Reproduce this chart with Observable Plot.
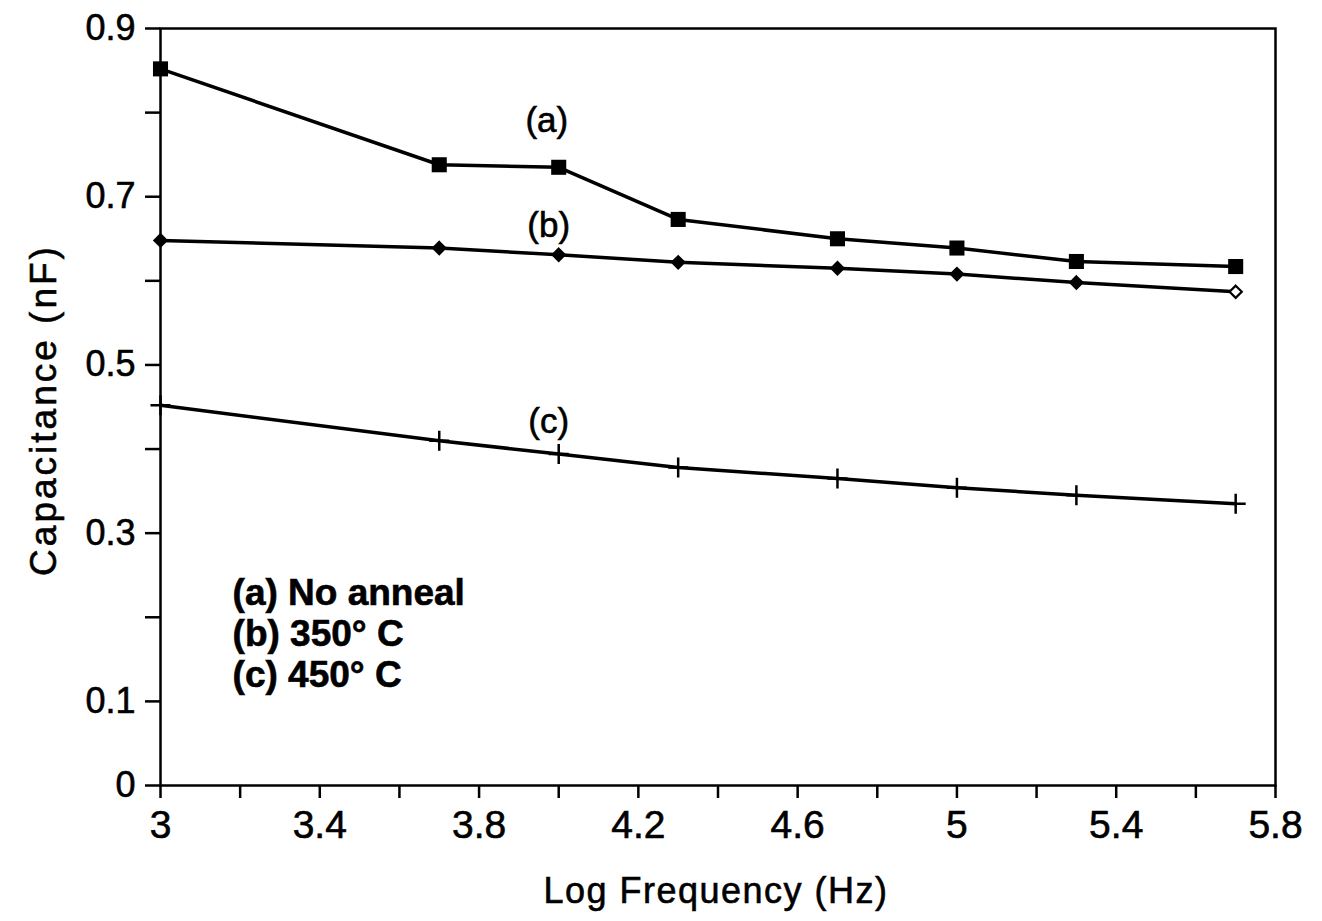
<!DOCTYPE html>
<html><head><meta charset="utf-8">
<script src="https://cdn.jsdelivr.net/npm/d3@7"></script>
<script src="https://cdn.jsdelivr.net/npm/@observablehq/plot@0.6"></script>
<style>
html,body{margin:0;padding:0;background:#fff;}
#chart{width:1322px;height:921px;}
#chart svg text{stroke:#000;stroke-width:0.6px;}
</style>
</head><body><div id="chart"></div>
<script>
const logFreq = [3, 3.7, 4.0, 4.3, 4.7, 5.0, 5.3, 5.7];
const capA = [0.852, 0.738, 0.735, 0.673, 0.650, 0.639, 0.623, 0.617];
const capB = [0.648, 0.639, 0.631, 0.622, 0.615, 0.608, 0.598, 0.587];
const capC = [0.452, 0.410, 0.394, 0.378, 0.365, 0.354, 0.345, 0.335];
const seriesNames = ["(a)", "(b)", "(c)"];
const legendLines = ["(a) No anneal", "(b) 350\u00B0 C", "(c) 450\u00B0 C"];
const labelX = [3.97, 3.975, 3.975];
const labelY = [0.79, 0.666, 0.432];
const xTicks = [3, 3.2, 3.4, 3.6, 3.8, 4.0, 4.2, 4.4, 4.6, 4.8, 5.0, 5.2, 5.4, 5.6, 5.8];
const xTickLabels = ["3", "", "3.4", "", "3.8", "", "4.2", "", "4.6", "", "5", "", "5.4", "", "5.8"];
const yTicks = [0, 0.1, 0.2, 0.3, 0.4, 0.5, 0.6, 0.7, 0.8, 0.9];
const yTickLabels = ["0", "0.1", "", "0.3", "", "0.5", "", "0.7", "", "0.9"];

const rows = (ys, s) => logFreq.map((x, i) => ({x, y: ys[i], s, last: i === logFreq.length - 1}));
const dA = rows(capA, "a"), dB = rows(capB, "b"), dC = rows(capC, "c");
const labels = seriesNames.map((t, i) => ({t, x: labelX[i], y: labelY[i]}));
const legend = legendLines.map((t, i) => ({t, i}));

const font = "'Liberation Sans', Arial, Helvetica, sans-serif";
const chart = Plot.plot({
  width: 1322, height: 921,
  marginLeft: 160, marginRight: 47, marginTop: 28, marginBottom: 136,
  style: {fontFamily: font, background: "#fff", color: "#000"},
  x: {domain: [3, 5.8], axis: null},
  y: {domain: [0, 0.9], axis: null},
  marks: [
    Plot.frame({stroke: "#000", strokeWidth: 2.5}),
    Plot.axisX(xTicks, {tickSize: 13, strokeWidth: 2.5, tickPadding: 12, fontSize: 39,
      tickFormat: d => xTickLabels[xTicks.indexOf(d)], label: null}),
    Plot.axisY(yTicks, {tickSize: 15, strokeWidth: 2.5, tickPadding: 10, fontSize: 36,
      tickFormat: d => yTickLabels[yTicks.indexOf(d)], label: null}),
    Plot.line(dA, {x: "x", y: "y", stroke: "#000", strokeWidth: 3.5}),
    Plot.line(dB, {x: "x", y: "y", stroke: "#000", strokeWidth: 3.5}),
    Plot.line(dC, {x: "x", y: "y", stroke: "#000", strokeWidth: 3.5}),
    Plot.dot(dA, {x: "x", y: "y", symbol: "square", fill: "#000", r: 8.5}),
    Plot.dot(dB, {x: "x", y: "y", symbol: "diamond2", fill: d => d.last ? "#fff" : "#000", stroke: "#000", strokeWidth: 2.2, r: 5.5}),
    Plot.dot(dC, {x: "x", y: "y", symbol: "plus", stroke: "#000", strokeWidth: 2.5, r: 6.5}),
    Plot.text(labels, {x: "x", y: "y", text: "t", fontSize: 35, fill: "#000"}),
    Plot.text(legend, {x: () => 3.181, y: d => 0.229 - d.i * 0.0488, text: "t", fontSize: 37, fontWeight: "bold", textAnchor: "start", fill: "#000"})
  ]
});
const svg = chart;
const ns = "http://www.w3.org/2000/svg";
function addText(t, x, y, rot, size, spacing) {
  const el = document.createElementNS(ns, "text");
  el.textContent = t;
  el.setAttribute("x", x); el.setAttribute("y", y);
  el.setAttribute("text-anchor", "middle");
  el.setAttribute("font-size", size);
  el.setAttribute("font-family", font);
  el.setAttribute("letter-spacing", spacing);
  el.setAttribute("fill", "#000");
  if (rot) el.setAttribute("transform", `rotate(-90 ${x} ${y})`);
  svg.appendChild(el);
}
addText("Log Frequency (Hz)", 716, 903, false, 36, 1.5);
addText("Capacitance (nF)", 56, 410, true, 37, 3);
document.getElementById("chart").appendChild(chart);
</script>
</body></html>
